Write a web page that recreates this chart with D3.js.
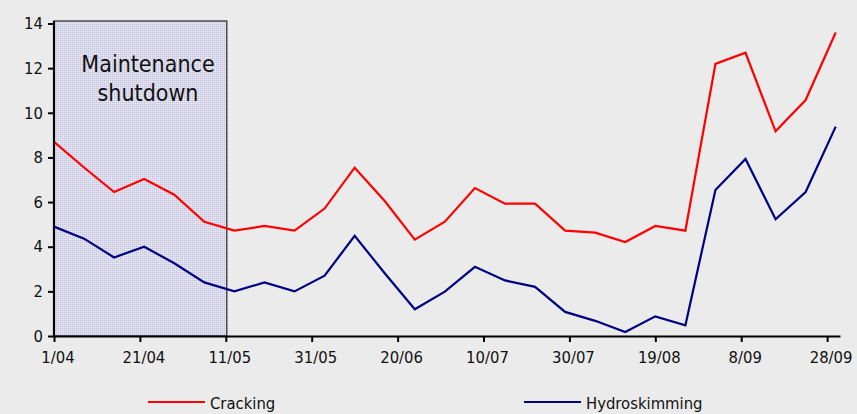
<!DOCTYPE html>
<html>
<head>
<meta charset="utf-8">
<script src="https://cdn.jsdelivr.net/npm/d3@7/dist/d3.min.js"></script>
<style>
  html, body { margin: 0; padding: 0; background: #ebebeb; }
  svg { display: block; }
  text { font-family: "DejaVu Sans Condensed", "DejaVu Sans", sans-serif; fill: #111; }
</style>
</head>
<body>
<svg id="chart" width="857" height="414"></svg>
<script>
// Weekly observation dates (day/month)
const dates = ["1/04","8/04","15/04","22/04","29/04","6/05","13/05","20/05","27/05",
  "3/06","10/06","17/06","24/06","1/07","8/07","15/07","22/07","29/07",
  "5/08","12/08","19/08","26/08","2/09","9/09","16/09","23/09","30/09"];

// Margins by refinery type
const cracking = [8.7, 7.55, 6.45, 7.03, 6.33, 5.12, 4.72, 4.93, 4.72, 5.71, 7.54, 6.05, 4.32,
  5.12, 6.63, 5.93, 5.93, 4.72, 4.63, 4.21, 4.93, 4.72, 12.19, 12.69, 9.17, 10.57, 13.6];
const hydroskimming = [4.9, 4.36, 3.52, 4.0, 3.26, 2.4, 2.0, 2.4, 2.0, 2.7, 4.49, 2.81, 1.2,
  1.99, 3.1, 2.49, 2.2, 1.08, 0.68, 0.18, 0.88, 0.48, 6.54, 7.93, 5.23, 6.45, 9.38];

const xTickLabels = ["1/04","21/04","11/05","31/05","20/06","10/07","30/07","19/08","8/09","28/09"];
const yTickValues = [0, 2, 4, 6, 8, 10, 12, 14];

const shutdown = { start: "1/04", end: "11/05", label: ["Maintenance", "shutdown"] };
const seriesNames = ["Cracking", "Hydroskimming"];
const seriesColors = ["#ff0000", "#000080"];

const parse = s => d3.utcParse("%d/%m/%Y")(s + "/2007");

const svg = d3.select("#chart");

const x = d3.scaleUtc()
  .domain([parse("1/04"), parse("1/10")])
  .range([54, 840]);
const y = d3.scaleLinear().domain([0, 14]).range([336, 23.5]);

// Background
svg.append("rect").attr("width", 857).attr("height", 414).attr("fill", "#ebebeb");

// Dotted fill for the shutdown window
const defs = svg.append("defs");
const pat = defs.append("pattern")
  .attr("id", "dots").attr("patternUnits", "userSpaceOnUse")
  .attr("width", 2).attr("height", 2);
pat.append("rect").attr("width", 2).attr("height", 2).attr("fill", "#e7e7ed");
pat.append("rect").attr("x", 0).attr("y", 0).attr("width", 1).attr("height", 1).attr("fill", "#c2c2e4");
pat.append("rect").attr("x", 1).attr("y", 0).attr("width", 1).attr("height", 1).attr("fill", "#dcdcec");
pat.append("rect").attr("x", 0).attr("y", 1).attr("width", 1).attr("height", 1).attr("fill", "#dcdcec");

const sx0 = x(parse(shutdown.start));
const sx1 = x(parse(shutdown.end)) + 1;
svg.append("rect")
  .attr("x", sx0).attr("y", y(14) - 2.5)
  .attr("width", sx1 - sx0).attr("height", y(0) - y(14) + 2.5)
  .attr("fill", "url(#dots)")
  .attr("stroke", "#333").attr("stroke-width", 1.3);

const labelX = 148;
const labelG = svg.append("text")
  .attr("text-anchor", "middle")
  .style("font-size", "23px")
  .attr("fill", "#1a1a2a");
shutdown.label.forEach((t, i) => {
  labelG.append("tspan").attr("x", labelX).attr("y", 72 + i * 28.5).text(t);
});

// Series lines
const series = [cracking, hydroskimming];
const line = d3.line()
  .x((d, i) => x(parse(dates[i])))
  .y(d => y(d));
series.forEach((vals, i) => {
  svg.append("path")
    .datum(vals)
    .attr("fill", "none")
    .attr("stroke", seriesColors[i])
    .attr("stroke-width", 2.2)
    .attr("stroke-linejoin", "miter")
    .attr("d", line);
});

// Axes
const xAxis = d3.axisBottom(x)
  .tickValues(xTickLabels.map(parse))
  .tickFormat((d, i) => xTickLabels[i])
  .tickSize(6).tickSizeOuter(0).tickPadding(9);
const gx = svg.append("g").attr("transform", `translate(0,${y(0)})`).call(xAxis);

const yAxis = d3.axisLeft(y)
  .tickValues(yTickValues)
  .tickSize(6).tickSizeOuter(0).tickPadding(5);
const gy = svg.append("g").attr("transform", `translate(${x(parse("1/04"))},0)`).call(yAxis);

[gx, gy].forEach(g => {
  g.select(".domain").attr("stroke", "#000").attr("stroke-width", 2.2);
  g.selectAll(".tick line").attr("stroke", "#000").attr("stroke-width", 2);
  g.selectAll(".tick text").style("font-size", "16.5px").attr("fill", "#111")
    .style("font-family", '"DejaVu Sans Condensed", "DejaVu Sans", sans-serif');
});
gx.selectAll(".tick text").attr("dx", 3.5);
gy.select(".domain").attr("d", `M0,${y(14) - 2.5}V${y(0) + 1}`);

// Legend
const legend = [
  { name: seriesNames[0], color: seriesColors[0], x0: 148 },
  { name: seriesNames[1], color: seriesColors[1], x0: 524 }
];
legend.forEach(l => {
  svg.append("line")
    .attr("x1", l.x0).attr("x2", l.x0 + 57)
    .attr("y1", 402).attr("y2", 402)
    .attr("stroke", l.color).attr("stroke-width", 2.2);
  svg.append("text")
    .attr("x", l.x0 + 62).attr("y", 409)
    .style("font-size", "16.5px")
    .text(l.name);
});
</script>
</body>
</html>
